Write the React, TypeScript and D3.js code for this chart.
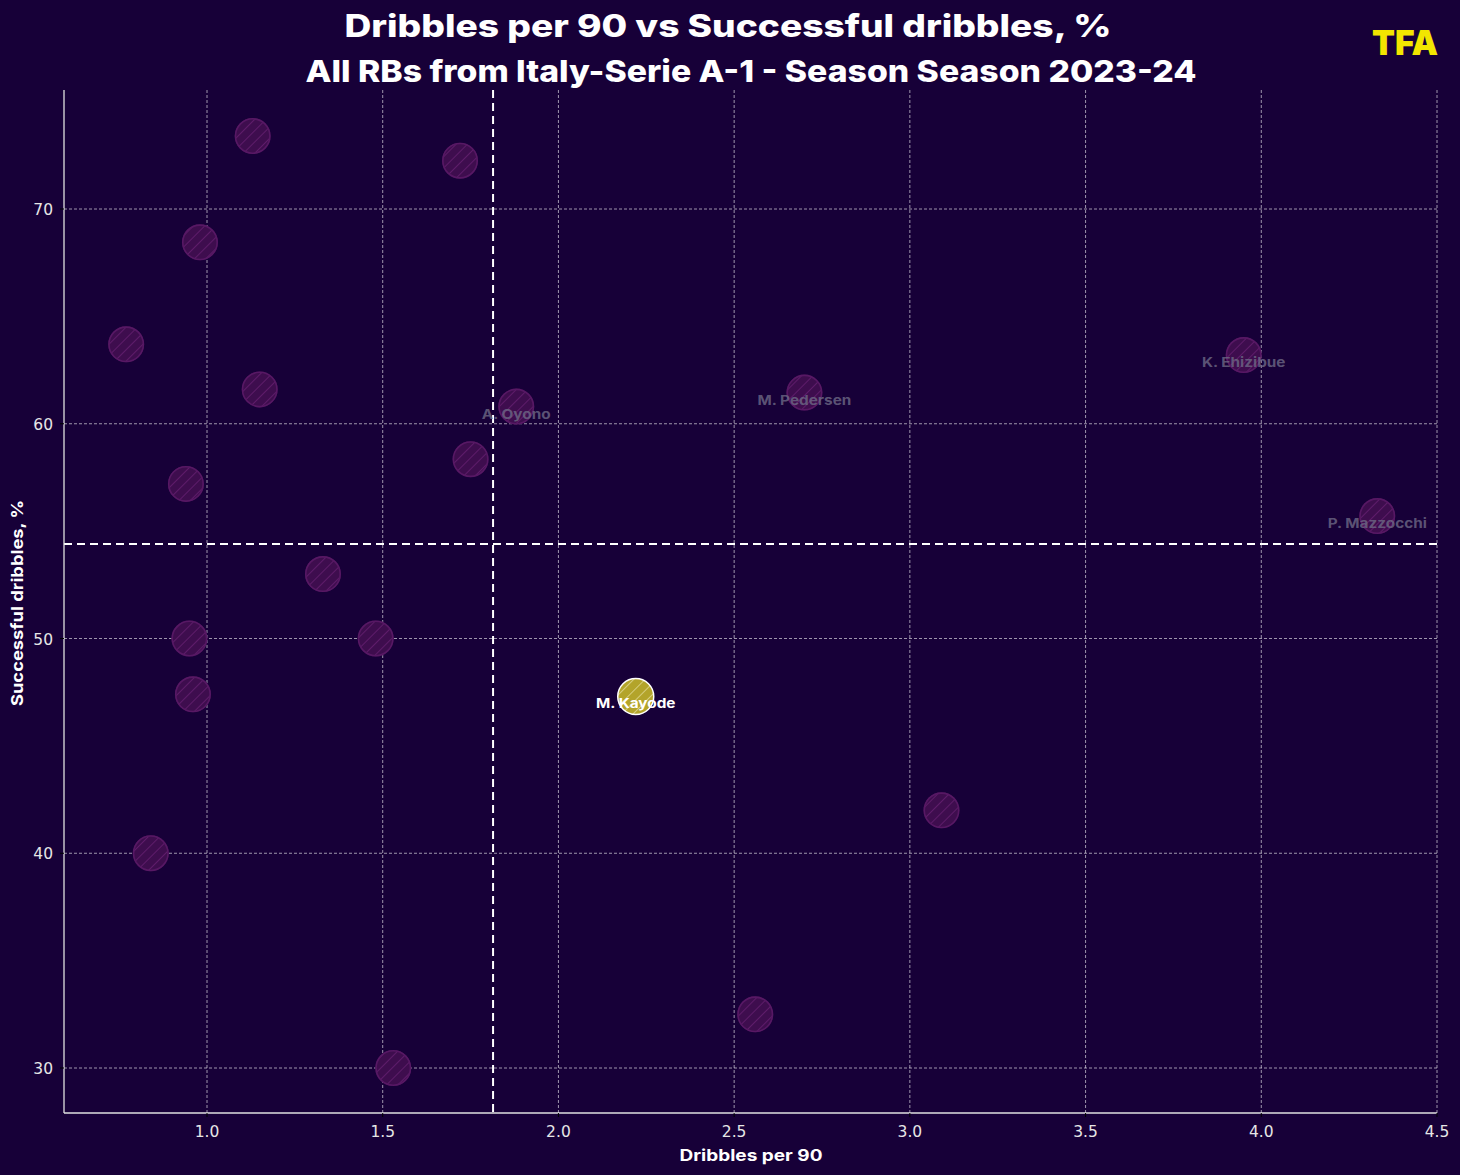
import React from "react";
import * as d3 from "d3";

const players = ["", "", "", "", "", "A. Oyono", "M. Pedersen", "K. Ehizibue", "", "", "P. Mazzocchi", "", "", "", "", "M. Kayode", "", "", "", ""];
const dribblesPer90 = [1.13, 1.72, 0.98, 0.77, 1.15, 1.88, 2.70, 3.95, 1.75, 0.94, 4.33, 1.33, 0.95, 1.48, 0.96, 2.22, 3.09, 0.84, 2.56, 1.53];
const successPct = [73.4, 72.25, 68.45, 63.7, 61.6, 60.8, 61.45, 63.2, 58.35, 57.2, 55.7, 53.0, 50.0, 50.0, 47.4, 47.3, 42.0, 40.0, 32.5, 30.0];
const highlighted = "M. Kayode";
const labelled = ["A. Oyono", "M. Pedersen", "K. Ehizibue", "P. Mazzocchi", "M. Kayode"];
const xTicks = [1.0, 1.5, 2.0, 2.5, 3.0, 3.5, 4.0, 4.5];
const yTicks = [30, 40, 50, 60, 70];
const meanX = 1.814;
const meanY = 54.4;

const W = 1460, H = 1175;
const BG = "#170038";

export default function App() {
  const x = d3.scaleLinear().domain([1.0, 4.5]).range([207, 1437]);
  const y = d3.scaleLinear().domain([30, 70]).range([1068, 209]);
  const x0 = x.invert(64);
  const yTop = y.invert(90), yBot = y.invert(1113);
  const L = x(x0), R = x(4.5), T = y(yTop), B = y(yBot);
  const r = 18;
  const pts = dribblesPer90.map((d, i) => ({ x: d, y: successPct[i], name: players[i] }));
  const order = [...pts].sort((a, b) => (a.name === highlighted ? 1 : 0) - (b.name === highlighted ? 1 : 0));
  return (
    <svg width={W} height={H} style={{ display: "block", position: "absolute", left: 0, top: 0 }}>
      <defs>
        <pattern id="hatchP" patternUnits="userSpaceOnUse" width="8" height="8" patternTransform="rotate(45)">
          <line x1="0" y1="0" x2="0" y2="8" stroke="#5e1c6a" strokeWidth="2" />
        </pattern>
        <pattern id="hatchY" patternUnits="userSpaceOnUse" width="8" height="8" patternTransform="rotate(45)">
          <line x1="0" y1="0" x2="0" y2="8" stroke="#f4efc0" strokeWidth="1.3" opacity="0.85" />
        </pattern>
        <clipPath id="plotClip"><rect x={L} y={T} width={R - L} height={B - T} /></clipPath>
      </defs>
      <rect x={0} y={0} width={W} height={H} fill={BG} />
      {/* grid */}
      <g stroke="#ffffff" strokeOpacity={0.65} strokeWidth={0.9} strokeDasharray="3,2">
        {xTicks.map(t => <line key={"gx" + t} x1={x(t)} x2={x(t)} y1={T} y2={B} />)}
        {yTicks.map(t => <line key={"gy" + t} x1={L} x2={R} y1={y(t)} y2={y(t)} />)}
      </g>
      {/* mean lines */}
      <g stroke="#ffffff" strokeWidth={2} strokeDasharray="8,5">
        <line x1={x(meanX)} x2={x(meanX)} y1={T} y2={B} />
        <line x1={L} x2={R} y1={y(meanY)} y2={y(meanY)} />
      </g>
      {/* spines */}
      <line x1={L} x2={L} y1={T} y2={B} stroke="#e0e0e0" strokeWidth={1.3} />
      <line x1={L} x2={R} y1={B} y2={B} stroke="#e0e0e0" strokeWidth={1.3} />
      {/* ticks */}
      <g fontFamily="DejaVu Sans" fontSize={15.5} fill="#e6e6e6">
        {xTicks.map(t => (
          <g key={"tx" + t}>
            <line x1={x(t)} x2={x(t)} y1={B} y2={B + 4} stroke="#000" strokeWidth={1} />
            <text x={x(t)} y={B + 24} textAnchor="middle">{t.toFixed(1)}</text>
          </g>
        ))}
        {yTicks.map(t => (
          <g key={"ty" + t}>
            <line x1={L - 4} x2={L} y1={y(t)} y2={y(t)} stroke="#000" strokeWidth={1} />
            <text x={L - 11} y={y(t) + 6} textAnchor="end">{t}</text>
          </g>
        ))}
      </g>
      {/* points */}
      <g clipPath="url(#plotClip)">
        {order.map((p, i) => {
          const hl = p.name === highlighted;
          return (
            <g key={"p" + i}>
              {hl ? (
                <>
                  <circle cx={x(p.x)} cy={y(p.y)} r={r} fill="#b3a42a" />
                  <circle cx={x(p.x)} cy={y(p.y)} r={r} fill="url(#hatchY)" stroke="#ffffff" strokeWidth={1.5} />
                </>
              ) : (
                <>
                  <circle cx={x(p.x)} cy={y(p.y)} r={r} fill="#3e0d4e" />
                  <circle cx={x(p.x)} cy={y(p.y)} r={r - 0.8} fill="url(#hatchP)" stroke="#571864" strokeWidth={1.6} />
                </>
              )}
            </g>
          );
        })}
      </g>
      {/* labels */}
      <g fontFamily="Inter, DejaVu Sans" fontWeight={700} fontSize={13} textAnchor="middle">
        {pts.filter(p => labelled.includes(p.name)).map((p, i) => (
          <text key={"l" + i} transform={`translate(${x(p.x)},${y(p.y) + 12}) scale(1.18,1)`}
            fill={p.name === highlighted ? "#ffffff" : "#6e6a86"} fillOpacity={p.name === highlighted ? 1 : 0.8}>{p.name}</text>
        ))}
      </g>
      {/* axis labels */}
      <text x={751} y={1161} textAnchor="middle" fontFamily="Inter, DejaVu Sans" fontWeight={700} fontSize={16} fill="#ffffff" textLength={143} lengthAdjust="spacingAndGlyphs">Dribbles per 90</text>
      <text transform={`translate(23,${603}) rotate(-90)`} textAnchor="middle" fontFamily="Inter, DejaVu Sans" fontWeight={700} fontSize={16} fill="#ffffff" textLength={206} lengthAdjust="spacingAndGlyphs">Successful dribbles, %</text>
      {/* titles */}
      <text x={728} y={37} textAnchor="middle" fontFamily="Inter" fontWeight={800} fontSize={31} fill="#ffffff" textLength={767} lengthAdjust="spacingAndGlyphs">Dribbles per 90 vs Successful dribbles, %</text>
      <text x={751} y={82} textAnchor="middle" fontFamily="Inter" fontWeight={800} fontSize={30} fill="#ffffff" textLength={891} lengthAdjust="spacingAndGlyphs">All RBs from Italy-Serie A-1 - Season Season 2023-24</text>
      {/* logo */}
      <text x={1405} y={55} textAnchor="middle" fontFamily="Inter" fontWeight={900} fontSize={34} fill="#f2e600" textLength={66} lengthAdjust="spacingAndGlyphs">TFA</text>
    </svg>
  );
}
